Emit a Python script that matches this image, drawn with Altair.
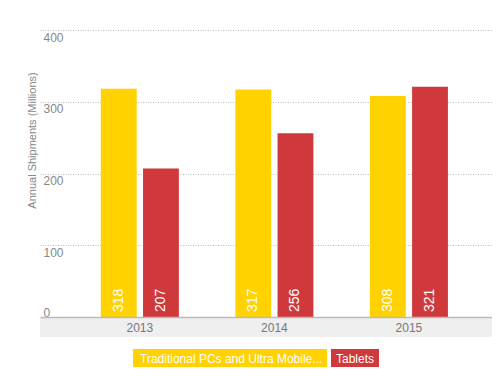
import altair as alt
import pandas as pd

years = ["2013", "2014", "2015"]
series = ["Traditional PCs and Ultra Mobiles", "Tablets"]
pcs = [318, 317, 308]
tablets = [207, 256, 321]
colors = ["#FFD200", "#D0393B"]
legend_text = ["Traditional PCs and Ultra Mobile...", "Tablets"]

rows = []
for i, y in enumerate(years):
    rows.append({"year": y, "series": series[0], "value": pcs[i]})
    rows.append({"year": y, "series": series[1], "value": tablets[i]})
df = pd.DataFrame(rows)

W, H = 452, 287
FONT = "Liberation Sans"

xscale = alt.Scale(paddingInner=0.42, paddingOuter=0.39, align=0.58)
cscale = alt.Scale(domain=series, range=colors)

band = alt.Chart(pd.DataFrame({"a": [0]})).mark_rect(color="#efefef").encode(
    x=alt.value(0), x2=alt.value(W), y=alt.value(H), y2=alt.value(H + 20)
)

base = alt.Chart(df).encode(
    x=alt.X("year:N", scale=xscale, sort=years,
            axis=alt.Axis(title=None, labelAngle=0, ticks=False, labelPadding=5,
                          labelFont=FONT, labelFontSize=12, labelColor="#777",
                          domainColor="#bbbbbb", domainWidth=1.5, zindex=1, grid=False)),
    xOffset=alt.XOffset("series:N", sort=series, scale=alt.Scale(paddingInner=0.15)),
)

bars = base.mark_bar().encode(
    y=alt.Y("value:Q", scale=alt.Scale(domain=[0, 400]),
            axis=alt.Axis(title="Annual Shipments (Millions)", values=[0, 100, 200, 300, 400],
                          domain=False, ticks=False, labelAlign="left", labelPadding=-3,
                          labelBaseline=alt.condition("datum.value == 0", alt.value("bottom"), alt.value("top")),
                          labelOffset=2,
                          labelFont=FONT, labelFontSize=12, labelColor="#888",
                          gridColor="#bbbbbb", gridDash=[1, 1.5], gridWidth=1,
                          titleFont=FONT, titleFontSize=11, titleFontWeight="normal",
                          titleColor="#888", titleX=-8, titleY=110, titleAngle=270,
                          titleAlign="center", titleBaseline="middle")),
    color=alt.Color("series:N", scale=cscale, legend=None),
)

labels = base.mark_text(angle=270, align="left", baseline="middle", color="white",
                        font=FONT, fontSize=14, dx=5).encode(
    y=alt.datum(0),
    text=alt.Text("value:Q"),
)

leg_y0, leg_y1 = H + 32, H + 51
leg1_rect = alt.Chart(pd.DataFrame({"t": [legend_text[0]]})).mark_rect(color=colors[0]).encode(
    x=alt.value(93), x2=alt.value(287), y=alt.value(leg_y0), y2=alt.value(leg_y1))
leg1_text = alt.Chart(pd.DataFrame({"t": [legend_text[0]]})).mark_text(
    align="left", baseline="middle", color="white", font=FONT, fontSize=12).encode(
    x=alt.value(100), y=alt.value((leg_y0 + leg_y1) / 2), text="t:N")
leg2_rect = alt.Chart(pd.DataFrame({"t": [legend_text[1]]})).mark_rect(color=colors[1]).encode(
    x=alt.value(291), x2=alt.value(339), y=alt.value(leg_y0), y2=alt.value(leg_y1))
leg2_text = alt.Chart(pd.DataFrame({"t": [legend_text[1]]})).mark_text(
    align="left", baseline="middle", color="white", font=FONT, fontSize=12).encode(
    x=alt.value(296), y=alt.value((leg_y0 + leg_y1) / 2), text="t:N")

chart = alt.layer(band, bars, labels, leg1_rect, leg1_text, leg2_rect, leg2_text).properties(
    width=W, height=H,
    autosize=alt.AutoSizeParams(type="none"),
    padding={"left": 32, "top": 22, "right": 0, "bottom": 50},
    background="white",
).configure_view(stroke=None)

chart.save("out.html", embed_options={"renderer": "svg", "actions": False})
